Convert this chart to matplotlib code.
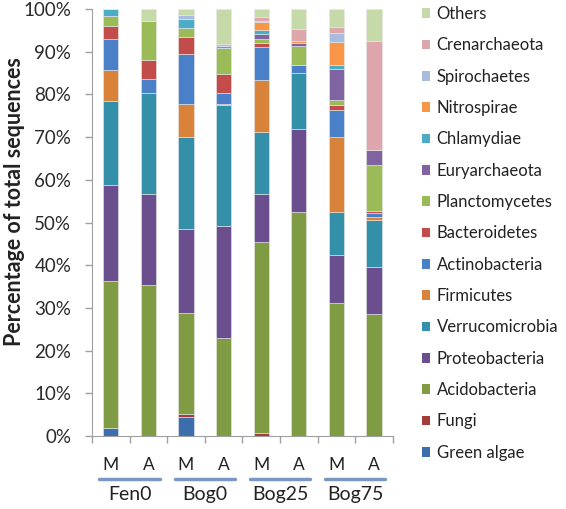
import numpy as np
import matplotlib
matplotlib.use("Agg")
import matplotlib.pyplot as plt
from matplotlib.patches import Patch
import matplotlib.transforms as mtransforms

plt.rcParams['font.family'] = ['Lato', 'DejaVu Sans']

samples = ["M", "A", "M", "A", "M", "A", "M", "A"]
sites = ["Fen0", "Bog0", "Bog25", "Bog75"]

# stacked from bottom to top
taxa = ["Green algae", "Fungi", "Acidobacteria", "Proteobacteria",
        "Verrucomicrobia", "Firmicutes", "Actinobacteria", "Bacteroidetes",
        "Planctomycetes", "Euryarchaeota", "Chlamydiae", "Nitrospirae",
        "Spirochaetes", "Crenarchaeota", "Others"]

green_algae     = [1.9, 0.0, 4.5, 0.0, 0.0, 0.0, 0.0, 0.0]
fungi           = [0.0, 0.0, 0.6, 0.0, 0.7, 0.0, 0.0, 0.0]
acidobacteria   = [34.3, 35.4, 23.6, 22.9, 44.8, 52.4, 31.2, 28.5]
proteobacteria  = [22.6, 21.2, 19.7, 26.3, 11.1, 19.5, 11.2, 11.1]
verrucomicrobia = [19.7, 23.8, 21.7, 28.3, 14.7, 13.0, 10.1, 11.1]
firmicutes      = [7.3, 0.0, 7.6, 0.3, 12.1, 0.2, 17.6, 0.7]
actinobacteria  = [7.2, 3.2, 11.7, 2.6, 7.8, 1.9, 6.2, 0.8]
bacteroidetes   = [3.0, 4.5, 4.0, 4.4, 0.9, 0.0, 1.2, 0.6]
planctomycetes  = [2.3, 9.1, 2.1, 6.1, 0.8, 4.3, 1.2, 10.7]
euryarchaeota   = [0.0, 0.0, 0.0, 0.0, 1.2, 0.8, 7.2, 3.5]
chlamydiae      = [1.7, 0.0, 2.1, 0.5, 1.1, 0.0, 1.0, 0.0]
nitrospirae     = [0.0, 0.0, 0.0, 0.0, 1.7, 0.4, 5.3, 0.0]
spirochaetes    = [0.0, 0.0, 1.0, 0.3, 0.2, 0.0, 2.1, 0.0]
crenarchaeota   = [0.0, 0.0, 0.0, 0.0, 1.0, 2.9, 1.6, 25.4]
others          = [0.0, 2.8, 1.4, 8.3, 1.9, 4.6, 4.1, 7.6]

series = [green_algae, fungi, acidobacteria, proteobacteria, verrucomicrobia,
          firmicutes, actinobacteria, bacteroidetes, planctomycetes,
          euryarchaeota, chlamydiae, nitrospirae, spirochaetes,
          crenarchaeota, others]

colors = ["#3c6eae", "#a63b3b", "#7f9c45", "#6a4e8e", "#3490a8", "#d8823a",
          "#4a80c8", "#c24c4a", "#9bbb59", "#8064a2", "#4bacc6", "#f79646",
          "#a8bce0", "#dda5ac", "#c6d9a8"]

fig = plt.figure(figsize=(5.66, 5.09), dpi=100)
ax = fig.add_axes([0.1625, 0.1434, 0.5315, 0.8389])

x = np.arange(len(samples))
bottom = np.zeros(len(samples))
for vals, c in zip(series, colors):
    ax.bar(x, vals, 0.4, bottom=bottom, color=c, edgecolor="#e8e8e8",
           linewidth=0.4)
    bottom += np.array(vals)

ax.set_xlim(-0.5, 7.5)
ax.set_ylim(0, 100)
ax.set_yticks(np.arange(0, 101, 10))
ax.set_yticklabels(["%d%%" % v for v in range(0, 101, 10)], fontsize=13.5,
                   color="#2a2a2a")
ax.set_xticks(np.arange(-0.5, 8, 1))
ax.set_xticklabels([])
ax.tick_params(axis="both", direction="out", length=5, color="#a0a0a0",
               width=1)
ax.tick_params(axis="y", pad=10)
for s in ["top", "right"]:
    ax.spines[s].set_visible(False)
for s in ["left", "bottom"]:
    ax.spines[s].set_color("#a0a0a0")

ax.text(-0.258, 0.55, "Percentage of total sequences", transform=ax.transAxes,
        rotation=90, ha="center", va="center", fontsize=15.5,
        fontweight="bold", color="#222222")

trans = mtransforms.blended_transform_factory(ax.transData, ax.transAxes)
for i, s in enumerate(samples):
    ax.text(i, -0.067, s, transform=trans, ha="center", va="center",
            fontsize=12.5, color="#222222")
for j, site in enumerate(sites):
    ax.plot([2 * j - 0.3, 2 * j + 1.3], [-0.1, -0.1], transform=trans,
            clip_on=False, color="#7b98c2", linewidth=2.5,
            solid_capstyle="round")
    ax.text(2 * j + 0.5, -0.136, site, transform=trans, ha="center",
            va="center", fontsize=14, color="#222222")

handles = [Patch(facecolor=c, edgecolor="none") for c in colors]
leg = fig.legend(handles[::-1], taxa[::-1], loc="upper left",
                 bbox_to_anchor=(0.745, 0.988), frameon=False, fontsize=12,
                 handlelength=0.5, handleheight=0.5, handletextpad=0.4,
                 labelspacing=0.92, borderaxespad=0, borderpad=0)
for t in leg.get_texts():
    t.set_color("#222222")

fig.savefig("out.png", dpi=100)
